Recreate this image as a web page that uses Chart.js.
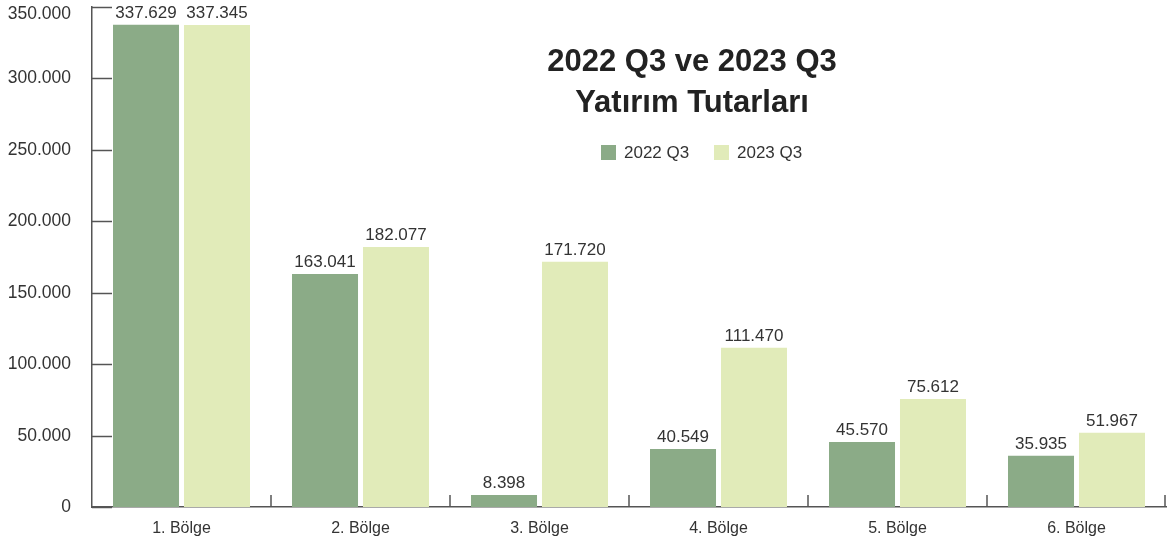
<!DOCTYPE html>
<html lang="tr">
<head>
    <meta charset="UTF-8">
    <title>2022 Q3 ve 2023 Q3 Yatırım Tutarları</title>
    <script src="https://cdn.jsdelivr.net/npm/chart.js"></script>
    <style>
        html, body { margin: 0; padding: 0; background: #fff; }
        #wrap { width: 1172px; height: 544px; position: relative; }
    </style>
</head>
<body>
    <div id="wrap"><canvas id="chart" width="1172" height="544"></canvas></div>

    <script>
        const regions = ['1. Bölge', '2. Bölge', '3. Bölge', '4. Bölge', '5. Bölge', '6. Bölge'];
        const q3_2022 = [337629, 163041, 8398, 40549, 45570, 35935];
        const q3_2023 = [337345, 182077, 171720, 111470, 75612, 51967];
        const yTicks = [0, 50000, 100000, 150000, 200000, 250000, 300000, 350000];
        const titleLines = ['2022 Q3 ve 2023 Q3', 'Yatırım Tutarları'];

        const green = '#8bab87';
        const yellow = '#e1ebb9';
        const axisColor = '#555';
        const textColor = '#333';
        const font = '"Liberation Sans", Arial, sans-serif';

        // 337629 -> "337.629"
        function fmt(v) {
            return String(v).replace(/\B(?=(\d{3})+(?!\d))/g, '.');
        }

        // y labels, value labels, inner ticks, title and legend
        const extras = {
            id: 'extras',
            afterDatasetsDraw(chart) {
                const ctx = chart.ctx;
                const area = chart.chartArea;
                const x = chart.scales.x;
                const y = chart.scales.y;
                ctx.save();

                // y ticks pointing into the plot, labels on the left
                ctx.strokeStyle = axisColor;
                ctx.lineWidth = 1.5;
                ctx.fillStyle = textColor;
                ctx.font = '17.5px ' + font;
                ctx.textAlign = 'right';
                ctx.textBaseline = 'middle';
                yTicks.forEach(v => {
                    const py = Math.round(y.getPixelForValue(v)) + 0.5;
                    ctx.beginPath();
                    ctx.moveTo(area.left, py);
                    ctx.lineTo(area.left + 20, py);
                    ctx.stroke();
                    // keep the top label inside the canvas
                    ctx.fillText(fmt(v), area.left - 21, Math.max(py, 14));
                });

                // x ticks between categories, pointing up
                for (let i = 1; i <= regions.length; i++) {
                    const px = Math.round((x.getPixelForValue(i - 1) + x.getPixelForValue(i)) / 2);
                    const edge = i === regions.length ? area.right - 1 : px;
                    ctx.beginPath();
                    ctx.moveTo(edge, area.bottom);
                    ctx.lineTo(edge, area.bottom - 12);
                    ctx.stroke();
                }

                // value labels
                ctx.font = '17px ' + font;
                ctx.textAlign = 'center';
                ctx.textBaseline = 'bottom';
                chart.data.datasets.forEach((ds, di) => {
                    chart.getDatasetMeta(di).data.forEach((bar, i) => {
                        ctx.fillText(fmt(ds.data[i]), bar.x, bar.y - 3);
                    });
                });

                // title
                const cx = 692;
                ctx.fillStyle = '#222';
                ctx.font = 'bold 31px ' + font;
                ctx.textBaseline = 'middle';
                ctx.fillText(titleLines[0], cx, 62);
                ctx.fillText(titleLines[1], cx, 103);

                // legend
                ctx.font = '17px ' + font;
                ctx.textAlign = 'left';
                const items = chart.data.datasets.map(ds => ({ label: ds.label, color: ds.backgroundColor }));
                const starts = [601, 714];
                items.forEach((it, i) => {
                    ctx.fillStyle = it.color;
                    ctx.fillRect(starts[i], 145, 15, 15);
                    ctx.fillStyle = textColor;
                    ctx.fillText(it.label, starts[i] + 23, 153);
                });

                ctx.restore();
            }
        };

        new Chart(document.getElementById('chart'), {
            type: 'bar',
            data: {
                labels: regions,
                datasets: [
                    { label: '2022 Q3', data: q3_2022, backgroundColor: green },
                    { label: '2023 Q3', data: q3_2023, backgroundColor: yellow }
                ]
            },
            options: {
                responsive: false,
                animation: false,
                devicePixelRatio: 1,
                layout: { padding: { top: 7, right: 6, left: 0, bottom: 0 } },
                categoryPercentage: 0.793,
                barPercentage: 0.93,
                plugins: {
                    legend: { display: false },
                    title: { display: false },
                    tooltip: { enabled: false }
                },
                scales: {
                    x: {
                        grid: { display: false, drawTicks: false },
                        border: { color: axisColor, width: 1.5 },
                        ticks: { color: textColor, font: { size: 16, family: font }, padding: 12 },
                        afterFit(scale) {
                            scale.height = 37;
                            scale.paddingLeft = 0;
                            scale.paddingRight = 0;
                        }
                    },
                    y: {
                        min: 0,
                        max: 350000,
                        afterBuildTicks(scale) { scale.ticks = yTicks.map(v => ({ value: v })); },
                        grid: { display: false, drawTicks: false },
                        border: { color: axisColor, width: 1.5 },
                        ticks: { display: false },
                        afterFit(scale) {
                            scale.width = 92;
                            scale.paddingTop = 0;
                            scale.paddingBottom = 0;
                        }
                    }
                }
            },
            plugins: [extras]
        });
    </script>
</body>
</html>
